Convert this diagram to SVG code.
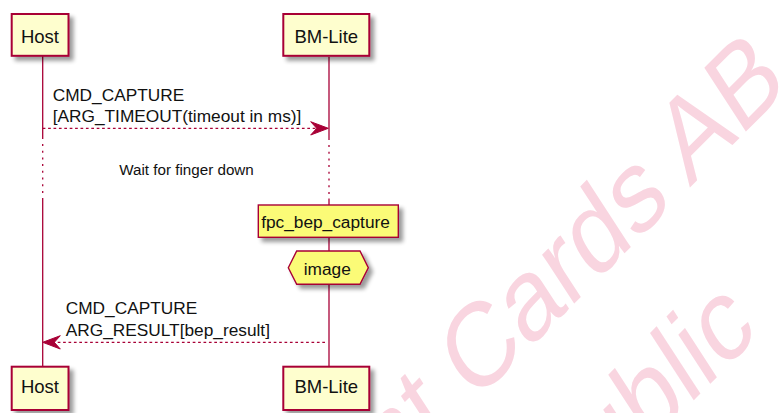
<svg xmlns="http://www.w3.org/2000/svg" width="779" height="413" viewBox="0 0 779 413">
<style>
.wm{font-family:"Liberation Sans",Arial,sans-serif;font-size:100px;fill:#F9D5E0}
.part rect{fill:#FEFECE;stroke:#A80036;stroke-width:2}
.ptxt{font-family:"Liberation Sans",Arial,sans-serif;font-size:18.5px;fill:#111;text-anchor:middle}
.mtxt{font-family:"Liberation Sans",Arial,sans-serif;font-size:17.3px;fill:#111}
.dtxt{font-family:"Liberation Sans",Arial,sans-serif;font-size:15.2px;fill:#111;text-anchor:middle}
.life{stroke:#A80036;stroke-width:1.3;fill:none}
.dots{stroke:#A80036;stroke-width:1.3;stroke-dasharray:2,4.7;fill:none}
.msg{stroke:#A80036;stroke-width:1.3;stroke-dasharray:2.7,2.7;fill:none}
.head{fill:#A80036;stroke:#A80036;stroke-width:1}
.note{fill:#FBFB77;stroke:#A80036;stroke-width:1.4}
</style>
<defs>
<filter id="sh" x="-20%" y="-20%" width="150%" height="160%">
<feGaussianBlur in="SourceAlpha" stdDeviation="2"/>
<feOffset dx="4" dy="4" result="o"/>
<feComponentTransfer in="o" result="s"><feFuncA type="linear" slope="0.4"/></feComponentTransfer>
<feMerge><feMergeNode in="s"/><feMergeNode in="SourceGraphic"/></feMerge>
</filter>
</defs>
<rect width="779" height="413" fill="#FFFFFF"/>
<g id="watermark">
<text class="wm" transform="matrix(0.749,-0.750,0.604,0.929,431,447)" x="-449.1" y="0">Fingerprint Cards AB</text>
<text class="wm" transform="matrix(0.749,-0.750,0.604,0.929,647,447)" x="-122.3" y="0">Public</text>
</g>
<g id="lifelines">
<line class="life" x1="42.7" y1="56" x2="42.7" y2="139"/>
<line class="dots" x1="42.7" y1="144" x2="42.7" y2="197"/>
<line class="life" x1="42.7" y1="198" x2="42.7" y2="367"/>
<line class="life" x1="329" y1="57" x2="329" y2="140"/>
<line class="dots" x1="329" y1="145" x2="329" y2="199"/>
<line class="life" x1="329" y1="199" x2="329" y2="367"/>
</g>
<g id="connectors">
<line class="msg" x1="42.7" y1="128.3" x2="322" y2="128.3"/>
<polygon class="head" points="328.3,128.3 310.7,121.7 316.7,128.3 310.7,135"/>
<line class="msg" x1="325" y1="342.3" x2="50" y2="342.3"/>
<polygon class="head" points="42.7,342.3 60.3,335.7 54.3,342.3 60.3,349"/>
</g>
<g id="msg1-label">
<text class="mtxt" x="52.7" y="100.7">CMD_CAPTURE</text>
<text class="mtxt" x="52.7" y="121.7">[ARG_TIMEOUT(timeout in ms)]</text>
</g>
<g id="delay">
<text class="dtxt" x="186.5" y="175">Wait for finger down</text>
</g>
<g id="msg2-label">
<text class="mtxt" x="65.7" y="313.8">CMD_CAPTURE</text>
<text class="mtxt" x="65.7" y="335.7">ARG_RESULT[bep_result]</text>
</g>
<g id="host-top" class="part">
<rect x="11.7" y="14" width="56.8" height="41.8" filter="url(#sh)"/>
<text class="ptxt" x="40" y="42.7">Host</text>
</g>
<g id="bmlite-top" class="part">
<rect x="283.3" y="14" width="86" height="41.8" filter="url(#sh)"/>
<text class="ptxt" x="326.3" y="42.7">BM-Lite</text>
</g>
<g id="fpc-bep-capture">
<rect class="note" x="258.3" y="205" width="140" height="32.3" filter="url(#sh)"/>
<text class="mtxt" x="325.5" y="228.3" text-anchor="middle">fpc_bep_capture</text>
</g>
<g id="image">
<polygon class="note" points="288.3,267.7 296.7,251 360,251 368.3,267.7 360,284.3 296.7,284.3" filter="url(#sh)"/>
<text class="mtxt" x="327.3" y="275" text-anchor="middle">image</text>
</g>
<g id="host-bottom" class="part">
<rect x="11.7" y="366.7" width="56.8" height="43.3" filter="url(#sh)"/>
<text class="ptxt" x="40" y="393.3">Host</text>
</g>
<g id="bmlite-bottom" class="part">
<rect x="283.3" y="366.7" width="86" height="43.3" filter="url(#sh)"/>
<text class="ptxt" x="326.3" y="393.3">BM-Lite</text>
</g>
</svg>
